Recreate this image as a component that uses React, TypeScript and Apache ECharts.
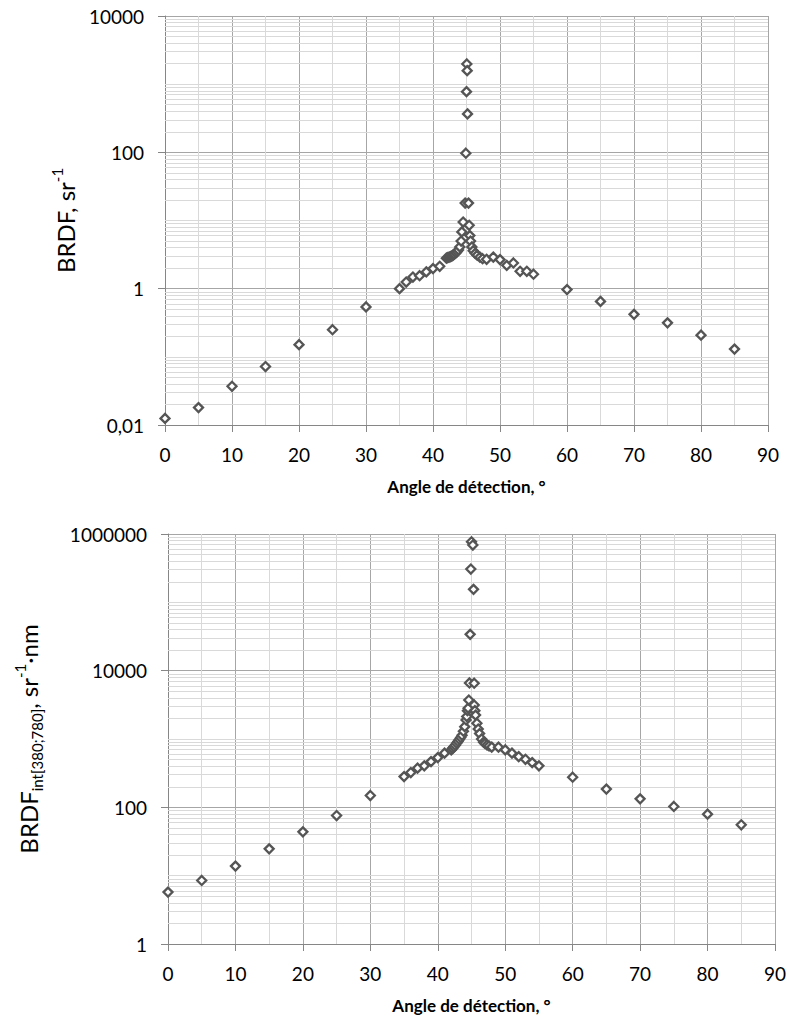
import React, { useEffect, useRef } from "react";
import * as echarts from "echarts";

// ---- Data ----
const topAngles = [
  0, 5, 10, 15, 20, 25, 30,
  35, 36, 37, 38, 39, 40, 41,
  42, 42.2, 42.4, 42.6, 42.8, 43, 43.2, 43.4, 43.6, 43.8,
  44, 44.2, 44.3, 44.5, 44.8, 44.9,
  45, 45.05, 45.1, 45.15,
  45.3, 45.4, 45.5, 45.6, 45.8,
  46, 46.3, 46.6, 47, 47.4, 48,
  49, 50, 51, 52, 53, 54, 55,
  60, 65, 70, 75, 80, 85,
];
const topBrdf = [
  0.0125, 0.018, 0.037, 0.072, 0.151, 0.25, 0.54,
  1.0, 1.25, 1.48, 1.55, 1.76, 1.97, 2.13,
  2.8, 2.85, 2.9, 2.95, 3.0, 3.1, 3.2, 3.35, 3.5, 3.7,
  4.1, 5.0, 6.8, 9.5, 18, 97,
  776, 1977, 1577, 366,
  18, 8.5, 6.0, 5.0, 4.1,
  3.6, 3.3, 3.1, 2.9, 2.75, 2.7,
  2.9, 2.67, 2.2, 2.38, 1.8, 1.8, 1.63,
  0.97, 0.65, 0.42, 0.315, 0.208, 0.13,
];

const bottomAngles = [
  0, 5, 10, 15, 20, 25, 30,
  35, 36, 37, 38, 39, 40, 41, 42,
  42.2, 42.4, 42.6, 42.8, 43, 43.2, 43.4, 43.6, 43.8,
  44, 44.2, 44.3, 44.4, 44.5, 44.6, 44.7, 44.8, 44.9,
  45, 45.2, 45.3,
  45.4, 45.4, 45.5, 45.6, 45.8,
  46, 46.2, 46.5, 46.8, 47, 47.3, 47.6, 48,
  49, 50, 51, 52, 53, 54, 55,
  60, 65, 70, 75, 80, 85,
];
const bottomBrdfInt = [
  5.75, 8.5, 13.8, 24.7, 43.8, 75.9, 149,
  282, 323, 374, 405, 467, 535, 620, 693,
  730, 770, 810, 868, 920, 980, 1050, 1130, 1300,
  1517, 1900, 2130, 2600, 2830, 3720, 6600, 34000, 307000,
  769000, 689000, 155000,
  6550, 3150, 2600, 2240, 1700,
  1400, 1200, 1000, 900, 860, 820, 790, 760,
  760, 693, 620, 552, 505, 452, 405,
  276, 185, 133, 103, 79.5, 55.5,
];

const xTitle = "Angle de détection, °";
const topYTitle = "{m|BRDF, sr}{sup|-1}";
const bottomYTitle = "{m|BRDF}{sub|int[380;780]}{m|, sr}{sup|-1}{m|·nm}";

const FONT = 'Lato, "Open Sans", sans-serif';
const MAJOR = "#a6a6a6";
const MINOR = "#d9d9d9";
const AXIS = "#868686";

function minorLogValues(lo: number, hi: number): number[] {
  const out: number[] = [];
  for (let e = lo; e < hi; e++) {
    for (let k = 1; k <= 9; k++) {
      if (k === 1 && e % 2 === 0) continue;
      out.push(Number((k * Math.pow(10, e)).toPrecision(6)));
    }
  }
  return out;
}

function fmtY(v: number): string {
  if (v < 1) return v.toFixed(2).replace(".", ",");
  return String(Math.round(v));
}

const rich = {
  m: { fontSize: 24, fontFamily: FONT, color: "#000", lineHeight: 32 },
  sup: { fontSize: 15, fontFamily: FONT, color: "#000", lineHeight: 24, verticalAlign: "top" },
  sub: { fontSize: 15, fontFamily: FONT, color: "#000", lineHeight: 16, verticalAlign: "bottom" },
};

function xAxisOf(gridIndex: number) {
  return {
    type: "value",
    gridIndex,
    min: 0,
    max: 90,
    interval: 10,
    axisLine: { show: true, onZero: false, lineStyle: { color: AXIS, width: 1 } },
    axisTick: { show: true, length: 7, lineStyle: { color: AXIS } },
    axisLabel: { fontSize: 19, fontFamily: FONT, color: "#000", margin: 20 },
    splitLine: { show: true, lineStyle: { color: MAJOR, width: 1 } },
    minorTick: { show: false, splitNumber: 2 },
    minorSplitLine: { show: true, lineStyle: { color: MINOR, width: 1 } },
    name: xTitle,
    nameLocation: "middle",
    nameGap: 53,
    nameTextStyle: { fontSize: 17, fontWeight: "bold", fontFamily: FONT, color: "#000" },
  };
}

function yAxisOf(gridIndex: number, min: number, max: number, name: string, gap: number) {
  return {
    type: "log",
    gridIndex,
    logBase: 100,
    min,
    max,
    splitNumber: 3,
    axisLine: { show: true, lineStyle: { color: AXIS, width: 1 } },
    axisTick: { show: true, length: 7, lineStyle: { color: AXIS } },
    axisLabel: { fontSize: 19, fontFamily: FONT, color: "#000", margin: 21, formatter: fmtY },
    splitLine: { show: true, lineStyle: { color: MAJOR, width: 1 } },
    name,
    nameLocation: "middle",
    nameRotate: 90,
    nameGap: gap,
    nameTextStyle: { fontSize: 24, fontFamily: FONT, color: "#000", rich },
  };
}

function scatterOf(idx: number, xs: number[], ys: number[], gridLines: number[]) {
  return {
    type: "scatter",
    xAxisIndex: idx,
    yAxisIndex: idx,
    data: xs.map((x, i) => [x, ys[i]]),
    symbol: "diamond",
    symbolSize: 9,
    itemStyle: { color: "#ffffff", borderColor: "#555555", borderWidth: 2.3, opacity: 1 },
    emphasis: { disabled: true },
    z: 3,
    markLine: {
      silent: true,
      z: 1,
      symbol: ["none", "none"],
      label: { show: false },
      emphasis: { disabled: true },
      lineStyle: { color: MINOR, width: 1, type: "solid" },
      data: gridLines.map((v) => ({ yAxis: v })),
    },
  };
}

export default function App() {
  const ref = useRef<HTMLDivElement>(null);
  useEffect(() => {
    if (!ref.current) return;
    const chart = echarts.init(ref.current, undefined, { renderer: "svg" });
    chart.setOption({
      animation: false,
      backgroundColor: "#ffffff",
      textStyle: { fontFamily: FONT },
      grid: [
        { left: 165, width: 603, top: 16, height: 409 },
        { left: 168, width: 607, top: 534, height: 410 },
      ],
      xAxis: [xAxisOf(0), xAxisOf(1)],
      yAxis: [
        yAxisOf(0, 0.01, 10000, topYTitle, 72),
        yAxisOf(1, 1, 1000000, bottomYTitle, 124),
      ],
      series: [
        scatterOf(0, topAngles, topBrdf, minorLogValues(-2, 4)),
        scatterOf(1, bottomAngles, bottomBrdfInt, minorLogValues(0, 6)),
      ],
    });
    return () => chart.dispose();
  }, []);
  return (
    <div
      ref={ref}
      style={{ position: "absolute", left: 0, top: 0, width: 789, height: 1025, background: "#fff" }}
    />
  );
}
